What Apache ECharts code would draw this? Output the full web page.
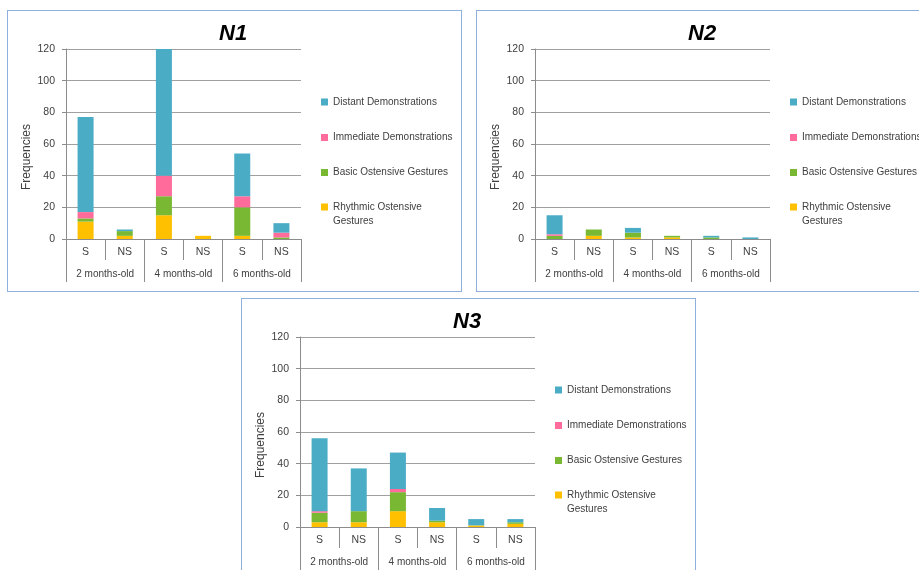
<!DOCTYPE html>
<html>
<head>
<meta charset="utf-8">
<script src="https://cdn.jsdelivr.net/npm/echarts@6/dist/echarts.min.js"></script>
<style>
  html, body { margin: 0; padding: 0; background: #fff; overflow: hidden; width: 919px; height: 570px; }
  .panel { position: absolute; width: 453px; height: 280px; border: 1px solid #8fb0dc; box-sizing: content-box; }
</style>
</head>
<body>
<div class="panel" id="chart-n1" style="left:7px;top:10px;"></div>
<div class="panel" id="chart-n2" style="left:476px;top:10px;"></div>
<div class="panel" id="chart-n3" style="left:241px;top:298px;"></div>
<script>
// categories
const subCategories = ['S', 'NS', 'S', 'NS', 'S', 'NS']
const ageGroups = ['2 months-old', '4 months-old', '6 months-old']
const yTicks = [0, 20, 40, 60, 80, 100, 120]

// legend order (top to bottom); stack order is the reverse
const legendNames = ['Distant Demonstrations', 'Immediate Demonstrations', 'Basic Ostensive Gestures', 'Rhythmic Ostensive\nGestures']
const colors = {
  'Rhythmic Ostensive\nGestures': '#ffc000',
  'Basic Ostensive Gestures': '#78b832',
  'Immediate Demonstrations': '#ff6c9c',
  'Distant Demonstrations': '#4bacc6',
}

// N1
const n1Rhythmic = [11, 2, 15, 2, 2, 0]
const n1Basic = [2, 3, 12, 0, 18, 1]
const n1Immediate = [4, 0, 13, 0, 7, 3]
const n1Distant = [60, 1, 80, 0, 27, 6]

// N2
const n2Rhythmic = [0, 2, 1, 1, 0, 0]
const n2Basic = [2, 4, 3, 1, 1, 0]
const n2Immediate = [1, 0, 0, 0, 0, 0]
const n2Distant = [12, 0, 3, 0, 1, 1]

// N3
const n3Rhythmic = [3, 3, 10, 3, 1, 2]
const n3Basic = [6, 7, 12, 1, 0, 1]
const n3Immediate = [1, 0, 2, 0, 0, 0]
const n3Distant = [46, 27, 23, 8, 4, 2]

const FONT = "'Liberation Sans', Arial, sans-serif"
const GREY = '#8c8c8c'
const TEXT = '#404040'

// legend first-line centers inside each panel
const legendCenters = [91, 126.5, 161.5, 196]

const chartInit = function (dom, title, rhythmic, basic, immediate, distant) {
  var chart = echarts.init(document.getElementById(dom), null, {renderer: 'canvas'})
  var stackData = [
    ['Rhythmic Ostensive\nGestures', rhythmic],
    ['Basic Ostensive Gestures', basic],
    ['Immediate Demonstrations', immediate],
    ['Distant Demonstrations', distant],
  ]

  var legends = legendNames.map(function (name, i) {
    var twoLine = name.indexOf('\n') >= 0
    return {
      data: [name],
      left: 313,
      // two-line item: blank first line so "Rhythmic Ostensive" sits beside the icon
      top: twoLine ? legendCenters[i] - 21 : legendCenters[i] - 5,
      padding: 0,
      icon: 'rect',
      itemWidth: 7,
      itemHeight: 7,
      selectedMode: false,
      formatter: twoLine ? function (n) { return ' \n' + n } : '{name}',
      textStyle: {fontFamily: FONT, fontSize: 10, color: TEXT, lineHeight: twoLine ? 14 : null},
    }
  })

  chart.setOption({
    animation: false,
    textStyle: {fontFamily: FONT},
    title: {
      text: title,
      left: 211,
      top: 12,
      padding: 0,
      textStyle: {fontFamily: FONT, fontSize: 22, fontWeight: 'bold', fontStyle: 'italic', color: '#000'},
    },
    legend: legends,
    grid: {left: 58, top: 38, width: 235, height: 190, containLabel: false, outerBoundsMode: 'none'},
    xAxis: [
      {
        type: 'category',
        data: subCategories,
        position: 'bottom',
        axisLine: {lineStyle: {color: GREY, width: 1}},
        axisTick: {show: true, length: 21, interval: 0, lineStyle: {color: GREY}},
        axisLabel: {interval: 0, margin: 8, color: TEXT, fontSize: 10.5, fontFamily: FONT},
      },
      {
        type: 'category',
        data: ageGroups,
        position: 'bottom',
        axisLine: {show: false},
        axisTick: {show: true, length: 43, interval: 0, lineStyle: {color: GREY}},
        axisLabel: {interval: 0, margin: 30, color: TEXT, fontSize: 10, fontFamily: FONT},
      },
    ],
    yAxis: {
      type: 'value',
      min: yTicks[0],
      max: yTicks[yTicks.length - 1],
      interval: yTicks[1] - yTicks[0],
      name: 'Frequencies',
      nameLocation: 'middle',
      nameGap: 33,
      nameMoveOverlap: false,
      nameTextStyle: {fontFamily: FONT, fontSize: 12, color: TEXT, padding: [0, 26, 0, 0]},
      axisLine: {show: true, lineStyle: {color: GREY}},
      axisTick: {show: true, length: 4, lineStyle: {color: GREY}},
      axisLabel: {margin: 11, color: TEXT, fontSize: 10.5, fontFamily: FONT},
      splitLine: {lineStyle: {color: '#a0a0a0', width: 1}},
    },
    series: stackData.map(function (item) {
      return {
        name: item[0],
        type: 'bar',
        stack: 'total',
        xAxisIndex: 0,
        barWidth: 16,
        data: item[1],
        itemStyle: {color: colors[item[0]]},
      }
    }),
  })
}

chartInit('chart-n1', 'N1', n1Rhythmic, n1Basic, n1Immediate, n1Distant)
chartInit('chart-n2', 'N2', n2Rhythmic, n2Basic, n2Immediate, n2Distant)
chartInit('chart-n3', 'N3', n3Rhythmic, n3Basic, n3Immediate, n3Distant)
</script>
</body>
</html>
